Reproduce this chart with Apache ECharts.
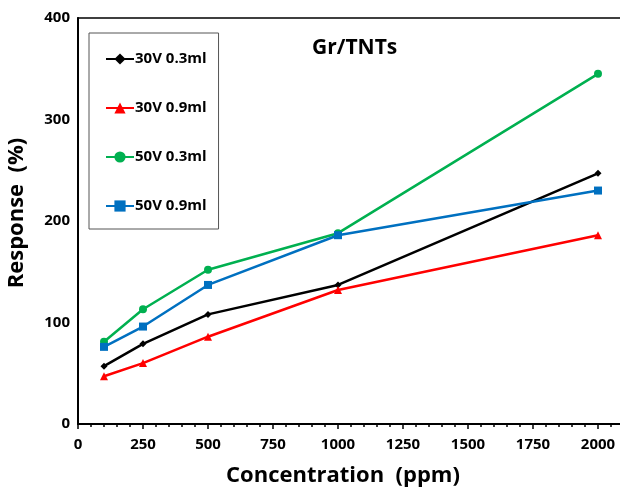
<!DOCTYPE html>
<html>
<head>
<meta charset="utf-8">
<script src="https://cdn.jsdelivr.net/npm/echarts@6/dist/echarts.min.js"></script>
<style>html,body{margin:0;padding:0;background:#fff;}#c{width:620px;height:488px;}</style>
</head>
<body>
<div id="c"></div>
<script>
const concentrations = [100, 250, 500, 1000, 2000];
const s30v03 = [57, 79, 108, 137, 247];
const s30v09 = [47, 60, 86, 132, 186];
const s50v03 = [81, 113, 152, 188, 345];
const s50v09 = [76, 96, 137, 186, 230];
const seriesNames = ['30V 0.3ml', '30V 0.9ml', '50V 0.3ml', '50V 0.9ml'];
const xTicks = [0, 250, 500, 750, 1000, 1250, 1500, 1750, 2000];
const yTicks = [0, 100, 200, 300, 400];

const FONT = 'Open Sans';
function pts(vals){ return concentrations.map((c,i)=>[c, vals[i]]); }
function mk(name, vals, color, symbol, size){
  return {name, type:'line', data: pts(vals), symbol, symbolSize:size,
    lineStyle:{color, width:2.5}, itemStyle:{color}, z: 3};
}
const chart = echarts.init(document.getElementById('c'), null, {renderer:'canvas'});
chart.setOption({
  animation:false,
  backgroundColor:'#fff',
  title:{text:'Gr/TNTs', left:307, top:33, textStyle:{fontFamily:FONT, fontWeight:'bold', fontSize:21, color:'#000'}},
  legend:{
    orient:'vertical', left:89, top:33, data:seriesNames,
    itemWidth:28, itemHeight:14, itemGap:33,
    padding:[18,12,15,16],
    borderColor:'#555', borderWidth:1,
    textStyle:{fontFamily:FONT, fontWeight:'bold', fontSize:15, color:'#000', padding:[0,0,0,-4], lineHeight:16}
  },
  grid:{left:78, top:18, width:546, height:406, show:true, borderColor:'#000', borderWidth:1.5, outerBoundsMode:'none', containLabel:false},
  xAxis:{
    type:'value', min:0, max:2100, interval:250,
    name:'Concentration  (ppm)', nameLocation:'middle', nameGap:41,
    nameTextStyle:{fontFamily:FONT, fontWeight:'bold', fontSize:22, color:'#000', padding:[0,16,0,0]},
    axisLine:{show:true, lineStyle:{color:'#000', width:2}},
    axisTick:{show:true, inside:false, length:5, lineStyle:{color:'#000', width:1.5}},
    minorTick:{show:true, splitNumber:5, length:3, lineStyle:{color:'#000', width:1.5}},
    splitLine:{show:false},
    axisLabel:{fontFamily:FONT, fontWeight:'bold', fontSize:15, color:'#000', margin:13,
      formatter:v=> xTicks.includes(v) ? String(v) : ''}
  },
  yAxis:{
    type:'value', min:0, max:400, interval:100,
    name:'Response  (%)', nameLocation:'middle', nameGap:50,
    nameTextStyle:{fontFamily:FONT, fontWeight:'bold', fontSize:22, color:'#000', padding:[0,0,0,16]},
    axisLine:{show:true, lineStyle:{color:'#000', width:2}},
    axisTick:{show:false},
    splitLine:{show:false},
    axisLabel:{fontFamily:FONT, fontWeight:'bold', fontSize:15, color:'#000', margin:8,
      formatter:v=> yTicks.includes(v) ? String(v) : ''}
  },
  series:[
    mk(seriesNames[0], s30v03, '#000000', 'diamond', 7),
    mk(seriesNames[1], s30v09, '#FF0000', 'triangle', 8),
    mk(seriesNames[2], s50v03, '#00B050', 'circle', 8),
    mk(seriesNames[3], s50v09, '#0070C0', 'rect', 8)
  ]
});
</script>
</body>
</html>
